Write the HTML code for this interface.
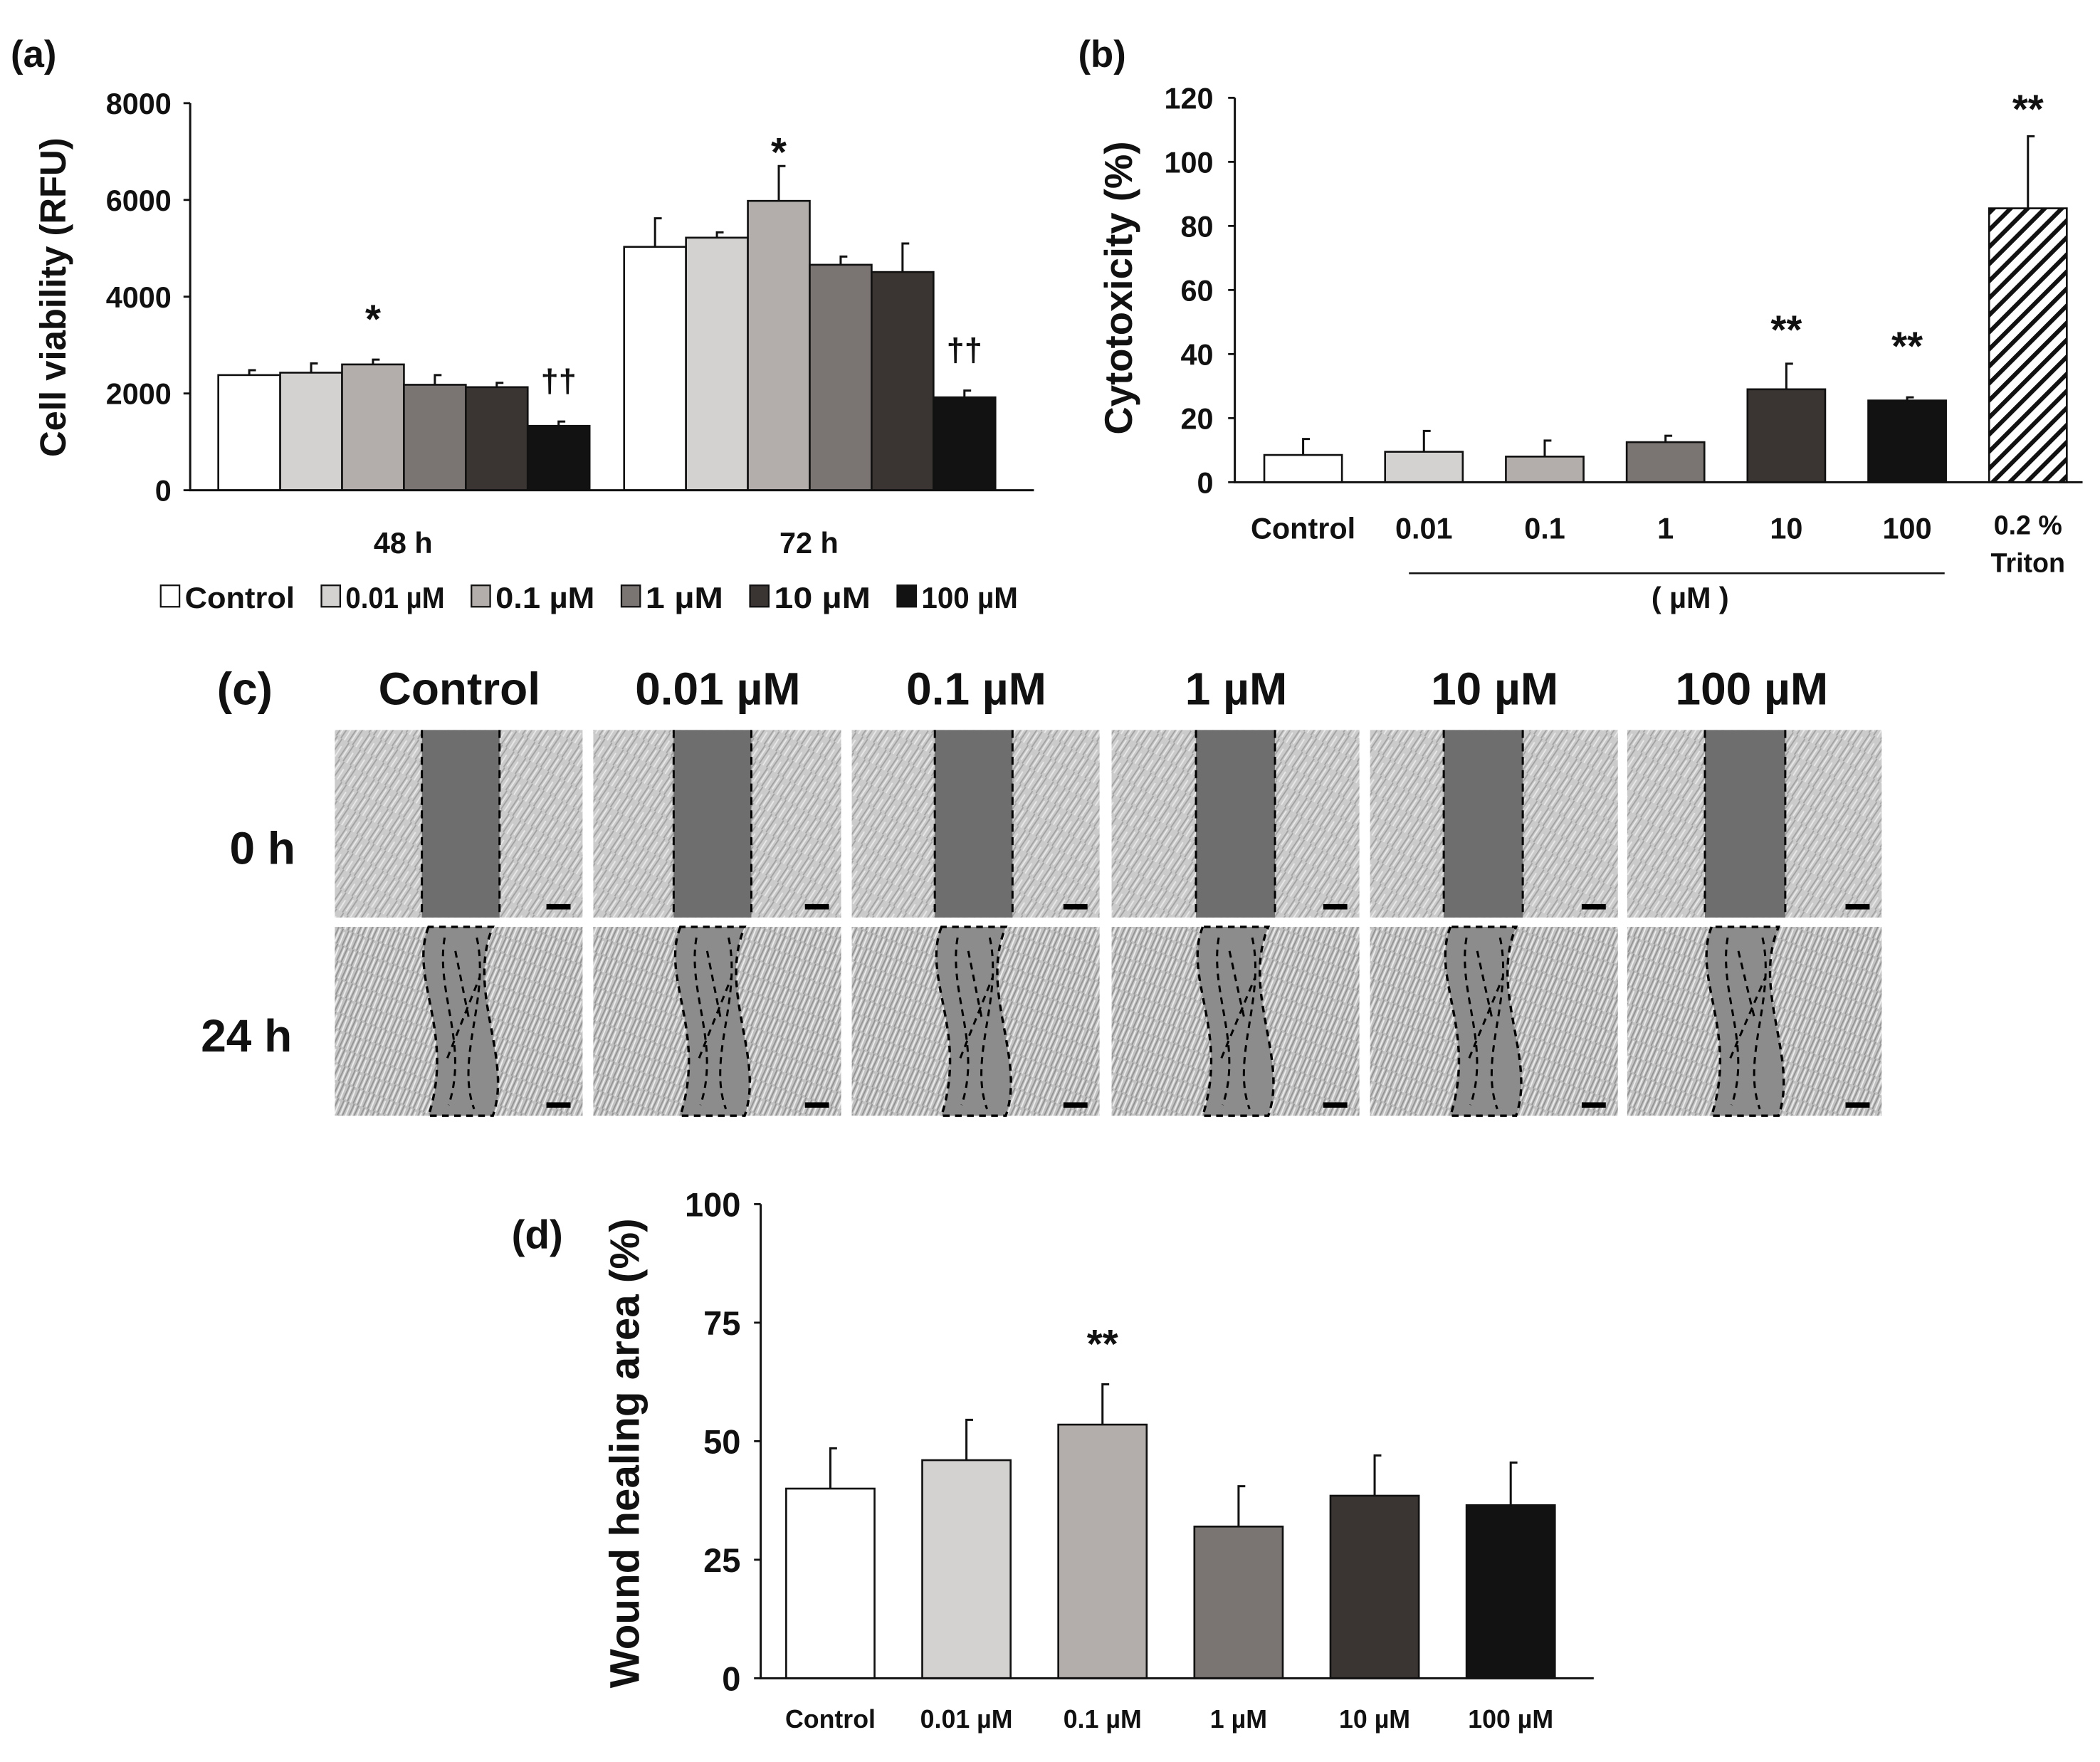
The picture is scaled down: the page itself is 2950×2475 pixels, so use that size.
<!DOCTYPE html>
<html><head><meta charset="utf-8"><style>
html,body{margin:0;padding:0;background:#fff}
svg{display:block}
text{font-family:"Liberation Sans",Arial,sans-serif;font-weight:bold;fill:#111}
</style></head><body>
<svg id="fig" width="2950" height="2475" viewBox="0 0 1568 1315.5" xmlns="http://www.w3.org/2000/svg">
<defs>
<pattern id="hatch" width="9" height="9" patternUnits="userSpaceOnUse" patternTransform="rotate(45)">
<rect width="9" height="9" fill="#fff"/><rect x="0" y="0" width="3.2" height="9" fill="#111"/></pattern>
<pattern id="cells" width="14" height="10" patternUnits="userSpaceOnUse" patternTransform="rotate(-60)">
<rect width="14" height="10" fill="#cbcbcb"/><path d="M0 2 L14 3 M0 6 L14 7" stroke="#a2a2a2" stroke-width="1"/><path d="M2 4 L12 4.5 M0 9 L9 9.4" stroke="#e8e8e8" stroke-width="1"/></pattern>
<pattern id="cells2" width="12" height="8" patternUnits="userSpaceOnUse" patternTransform="rotate(-70)">
<rect width="12" height="8" fill="#c2c2c2"/><path d="M0 1.5 L12 2.5 M0 5 L12 6" stroke="#939393" stroke-width="1"/><path d="M1 3.5 L11 4 M0 7.3 L10 7.6" stroke="#ececec" stroke-width="1"/></pattern>
</defs>
<g id="pa"></g>
<g id="pb"></g>
<g id="pc"></g>
<g id="pd"></g>
</svg>
<script>
// ---- data ----
const colors = ["#ffffff","#d4d1d1","#b3aeab","#7a7472","#3a3533","#121212"];
const aGroups = ["48 h","72 h"];
const aLegend = ["Control","0.01 µM","0.1 µM","1 µM","10 µM","100 µM"];
const a48 = [2380,2430,2600,2180,2130,1330];
const a48err = [100,190,100,200,90,90];
const a72 = [5030,5220,5980,4660,4510,1920];
const a72err = [590,110,720,170,590,140];
const a48marks = ["","","*","","","††"];
const a72marks = ["","","*","","","††"];
const aTicks = [0,2000,4000,6000,8000];

const bCats = ["Control","0.01","0.1","1","10","100","0.2 %"];
const bVals = [8.5,9.5,8,12.5,29,25.5,85.5];
const bErr = [5,6.5,5,2,8,1,22.5];
const bMarks = ["","","","","**","**","**"];
const bTicks = [0,20,40,60,80,100,120];

const cCols = ["Control","0.01 µM","0.1 µM","1 µM","10 µM","100 µM"];
const cRows = ["0 h","24 h"];

const dCats = ["Control","0.01 µM","0.1 µM","1 µM","10 µM","100 µM"];
const dVals = [40,46,53.5,32,38.5,36.5];
const dErr = [8.5,8.5,8.5,8.5,8.5,9];
const dMarks = ["","","**","","",""];
const dTicks = [0,25,50,75,100];

const NS="http://www.w3.org/2000/svg";
function mk(parent,tag,attrs,txt){const e=document.createElementNS(NS,tag);for(const k in attrs)e.setAttribute(k,attrs[k]);if(txt!==undefined)e.textContent=txt;parent.appendChild(e);return e;}

// ---- panel a ----
(function(){
const g=document.getElementById('pa');
const y=v=>366-(v/8000)*289;
const t=mk(g,'text',{x:8,y:50,'font-size':28},"(a)");


const yt=mk(g,'text',{x:0,y:0,'font-size':27,'text-anchor':'middle',transform:'translate(49,222) rotate(-90)'},"Cell viability (RFU)");


aTicks.forEach(v=>{
 const l=mk(g,'line',{x1:137,x2:142,y1:y(v),y2:y(v),stroke:'#111','stroke-width':1.5});
 
 
 const tx=mk(g,'text',{x:128,y:y(v)+8,'font-size':22,'text-anchor':'end'},String(v));
 
 
});
const groupsData=[[a48,a48err,a48marks,163],[a72,a72err,a72marks,466]];
groupsData.forEach((gd,gi)=>{
 gd[0].forEach((v,i)=>{
  const x0=gd[3]+i*46.2;
  const r=mk(g,'rect',{x:x0,y:y(v),width:46.2,height:366-y(v),fill:colors[i],stroke:'#111','stroke-width':1.4});
  
  
  const cx=x0+23.1, ye=y(v+gd[1][i]);
  const e=mk(g,'path',{d:`M${cx} ${y(v)} V${ye} H${cx+5}`,stroke:'#111','stroke-width':1.6,fill:'none'});
  
  
  if(gd[2][i]){
   const isStar=gd[2][i]=="*";
   const off=isStar?(gi==0?-20:0):-22;
   const m=mk(g,'text',{x:cx,y:ye+off,'font-size':isStar?30:24,'text-anchor':'middle'},gd[2][i]);
   
   
  }
 });
 const gl=mk(g,'text',{x:gd[3]+138,y:413,'font-size':22,'text-anchor':'middle'},aGroups[gi]);
 
 
});
const ax=mk(g,'path',{d:'M142 77 V366 H772',stroke:'#111','stroke-width':1.6,fill:'none'});


let lx=120;
const widths=[88,80,80,64,78,78];
aLegend.forEach((s,i)=>{
 const sw=mk(g,'rect',{x:lx,y:437,width:14,height:16,fill:colors[i],stroke:'#111','stroke-width':1.2});
 
 
 const lt=mk(g,'text',{x:lx+18,y:454,'font-size':22,textLength:widths[i]-6,lengthAdjust:'spacingAndGlyphs'},s);
 
 
 lx+=widths[i]+18+14;
});
})();

// ---- panel b ----
(function(){
const g=document.getElementById('pb');
const y=v=>360-(v/120)*287;
const t=mk(g,'text',{x:805,y:50,'font-size':28},"(b)");


const yt=mk(g,'text',{x:0,y:0,'font-size':29,'text-anchor':'middle',transform:'translate(845,215) rotate(-90)'},"Cytotoxicity (%)");


bTicks.forEach(v=>{
 const l=mk(g,'line',{x1:917,x2:922,y1:y(v),y2:y(v),stroke:'#111','stroke-width':1.5});
 
 
 const tx=mk(g,'text',{x:906,y:y(v)+8,'font-size':22,'text-anchor':'end'},String(v));
 
 
});
bVals.forEach((v,i)=>{
 const x0=944+i*90.2, w=58;
 const r=mk(g,'rect',{x:x0,y:y(v),width:w,height:360-y(v),fill:i==6?'url(#hatch)':colors[i],stroke:'#111','stroke-width':1.4});
 
 
 const cx=x0+w/2, ye=y(v+bErr[i]);
 const e=mk(g,'path',{d:`M${cx} ${y(v)} V${ye} H${cx+5}`,stroke:'#111','stroke-width':1.6,fill:'none'});
 
 
 if(bMarks[i]){
  const off=i==6?-10:(i==5?-28:-15);
  const m=mk(g,'text',{x:cx,y:ye+off,'font-size':30,'text-anchor':'middle'},bMarks[i]);
  
  
 }
 if(i<6){
  const xl=mk(g,'text',{x:cx,y:402,'font-size':22,'text-anchor':'middle'},bCats[i]);
  
  
 } else {
  const xl=mk(g,'text',{x:cx,y:399,'font-size':20,'text-anchor':'middle'},bCats[i]);
  
  
  const x2=mk(g,'text',{x:cx,y:427,'font-size':20,'text-anchor':'middle'},"Triton");
  
  
 }
});
const ax=mk(g,'path',{d:'M922 73 V360 H1555',stroke:'#111','stroke-width':1.6,fill:'none'});


const br=mk(g,'line',{x1:1052,x2:1452,y1:428,y2:428,stroke:'#111','stroke-width':1.3});


const ut=mk(g,'text',{x:1262,y:454,'font-size':22,'text-anchor':'middle'},"( µM )");


})();

// ---- panel c ----
(function(){
const g=document.getElementById('pc');
const t=mk(g,'text',{x:162,y:526,'font-size':34},"(c)");


const colX=[250,443,636,830,1023,1215];
const gaps=[[315,373],[503,561],[698,756],[893,952],[1078,1137],[1273,1333]];
cCols.forEach((c,i)=>{
 const h=mk(g,'text',{x:colX[i]+93,y:526,'font-size':34,'text-anchor':'middle'},c);
 
 
});
cRows.forEach((r,j)=>{
 const rl=mk(g,'text',{x:j==0?196:184,y:j==0?645:785,'font-size':34,'text-anchor':'middle'},r);
 
 
});
colX.forEach((x,i)=>{
 const w=i==5?190:185;
 const im=mk(g,'rect',{x:x,y:545,width:w,height:140,fill:'url(#cells)'});
 
 
 const gp=mk(g,'rect',{x:gaps[i][0],y:545,width:gaps[i][1]-gaps[i][0],height:140,fill:'#6e6e6e'});
 
 
 [0,1].forEach(k=>{
  const dl=mk(g,'line',{x1:gaps[i][k],x2:gaps[i][k],y1:545,y2:685,stroke:'#000','stroke-width':1.6,'stroke-dasharray':'6,4'});
  
  
 });
 const sb=mk(g,'rect',{x:x+w-27,y:675,width:18,height:4,fill:'#000'});
 
 
 const im2=mk(g,'rect',{x:x,y:692,width:w,height:141,fill:'url(#cells2)'});
 
 
 const a=gaps[i][0]+5,b=gaps[i][1]-5;
 const wob=mk(g,'path',{d:`M${a} 692 C${a-15} 730 ${a+20} 770 ${a} 833 L${b} 833 C${b+15} 790 ${b-20} 740 ${b} 692 Z`,fill:'#8c8c8c',stroke:'#000','stroke-width':1.8,'stroke-dasharray':'5,4'});
 
 
 const inner=mk(g,'path',{d:`M${a+12} 700 C${a+5} 740 ${a+30} 780 ${a+15} 825 M${b-12} 700 C${b-2} 745 ${b-28} 790 ${b-14} 828 M${a+20} 710 L${b-18} 760 M${a+14} 790 L${b-10} 730`,fill:'none',stroke:'#000','stroke-width':1.6,'stroke-dasharray':'5,4'});
 
 
 const sb2=mk(g,'rect',{x:x+w-27,y:823,width:18,height:4,fill:'#000'});
 
 
});
})();

// ---- panel d ----
(function(){
const g=document.getElementById('pd');
const y=v=>1253-(v/100)*354;
const t=mk(g,'text',{x:382,y:932,'font-size':30},"(d)");


const yt=mk(g,'text',{x:0,y:0,'font-size':31,'text-anchor':'middle',transform:'translate(477,1085) rotate(-90)'},"Wound healing area (%)");


dTicks.forEach(v=>{
 const l=mk(g,'line',{x1:563,x2:568,y1:y(v),y2:y(v),stroke:'#111','stroke-width':1.5});
 
 
 const tx=mk(g,'text',{x:553,y:y(v)+9,'font-size':25,'text-anchor':'end'},String(v));
 
 
});
dVals.forEach((v,i)=>{
 const x0=587+i*101.6,w=66;
 const r=mk(g,'rect',{x:x0,y:y(v),width:w,height:1253-y(v),fill:colors[i],stroke:'#111','stroke-width':1.4});
 
 
 const cx=x0+w/2, ye=y(v+dErr[i]);
 const e=mk(g,'path',{d:`M${cx} ${y(v)} V${ye} H${cx+5}`,stroke:'#111','stroke-width':1.6,fill:'none'});
 
 
 if(dMarks[i]){
  const m=mk(g,'text',{x:cx,y:ye-20,'font-size':30,'text-anchor':'middle'},dMarks[i]);
  
  
 }
 const xl=mk(g,'text',{x:cx,y:1290,'font-size':19,'text-anchor':'middle'},dCats[i]);
 
 
});
const ax=mk(g,'path',{d:'M568 899 V1253 H1190',stroke:'#111','stroke-width':1.6,fill:'none'});


})();
</script>
</body></html>
